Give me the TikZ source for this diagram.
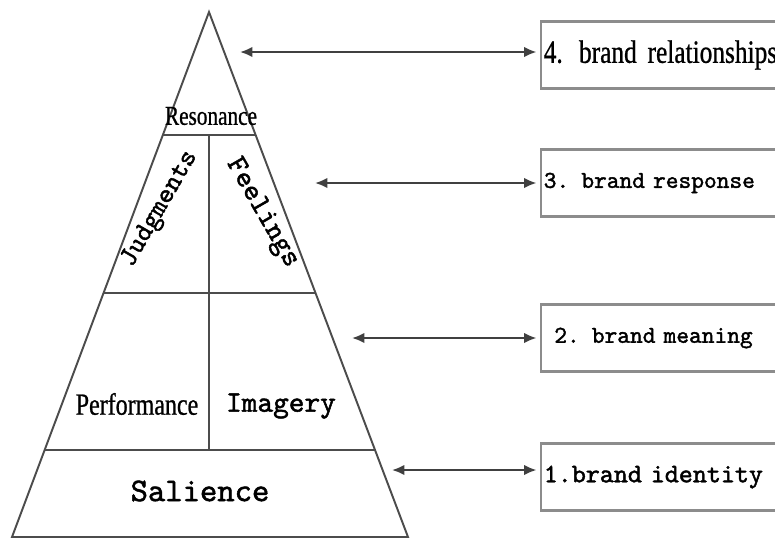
\documentclass[tikz,border=0pt]{standalone}
\usepackage{fontspec}
\setmainfont{Liberation Serif}
\newfontfamily\simmono[FakeBold=1.6]{lmmono10-regular.otf}
\newfontfamily\narrowserif[FakeStretch=0.78,FakeBold=0.8]{Liberation Serif}
\usetikzlibrary{arrows.meta,positioning}

\tikzset{
  level/.style={draw=black!70, line width=1.1pt},
  brandbox/.style={draw=black!45, line width=1.3pt, rectangle, anchor=west,
    minimum height=1.34cm, text width=6cm, align=left, inner xsep=1.5pt,
    font=\simmono\fontsize{13.8}{15}\selectfont},
  link/.style={{Latex[length=7pt,width=6pt]}-{Latex[length=7pt,width=6pt]},
    draw=black!75, line width=1.2pt, shorten >=2pt},
}

\begin{document}
\begin{tikzpicture}[x=0.02cm, y=-0.02cm]
  \useasboundingbox (0,0) rectangle (775,542);
  \clip (0,0) rectangle (775,542);

  % pyramid
  \coordinate (apex) at (209,12);
  \coordinate (bl) at (12,537);
  \coordinate (br) at (408,537);
  \path (apex) -- (bl) coordinate[pos=0.2343] (l1) coordinate[pos=0.5352] (l2) coordinate[pos=0.8343] (l3);
  \path (apex) -- (br) coordinate[pos=0.2343] (r1) coordinate[pos=0.5352] (r2) coordinate[pos=0.8343] (r3);

  \draw[level] (apex) -- (bl) -- (br) -- cycle;
  \draw[level] (l1) -- (r1);
  \draw[level] (l2) -- (r2);
  \draw[level] (l3) -- (r3);
  \draw[level] (apex |- l1) -- (apex |- l3);

  \node[font=\narrowserif\fontsize{15.5}{16}\selectfont] (reson) at (211,116) {Resonance};
  \node[font=\simmono\fontsize{15.6}{16}\selectfont, rotate=60, inner sep=0pt] (judg) at (160,209) {Judgments};
  \node[font=\simmono\fontsize{16.5}{16}\selectfont, rotate=-60, inner sep=0pt] (feel) at (262,213) {Feelings};
  \node[font=\narrowserif\fontsize{17.5}{18}\selectfont] (perf) at (137,404) {Performance};
  \node[font=\simmono\fontsize{17}{18}\selectfont] (imag) at (281,406) {Imagery};
  \node[font=\simmono\fontsize{18.8}{20}\selectfont] (sal) at (200,491) {Salience};

  % levels of brand building
  \node[brandbox, font=\narrowserif\fontsize{18.5}{20}\selectfont] (box4) at (540,55) {4. brand relationships};
  \node[brandbox] (box3) at (540,183) {3. brand response};
  \node[brandbox] (box2) at (540,338) {\hspace*{6pt}2. brand meaning};
  \node[brandbox, font=\simmono\fontsize{15.2}{16}\selectfont] (box1) at (540,477) {1.brand identity};

  \coordinate (a4) at (240,52);
  \coordinate (a3) at (315,183);
  \coordinate (a2) at (352,338);
  \coordinate (a1) at (392,470);
  \draw[link] (a4) -- (a4 -| box4.west);
  \draw[link] (a3) -- (a3 -| box3.west);
  \draw[link] (a2) -- (a2 -| box2.west);
  \draw[link] (a1) -- (a1 -| box1.west);
\end{tikzpicture}
\end{document}
